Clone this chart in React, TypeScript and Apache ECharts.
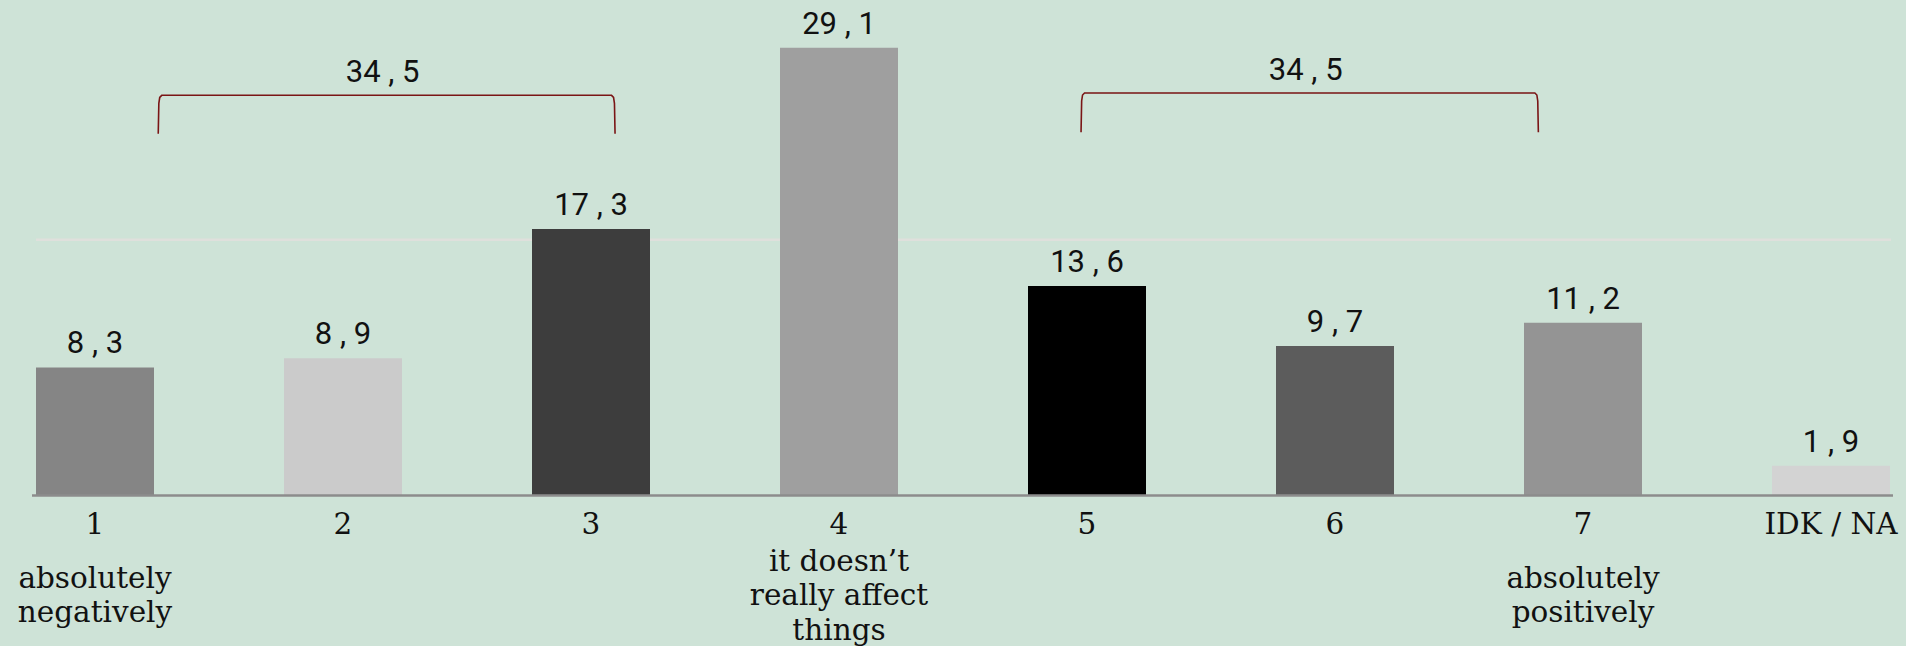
import React, { useEffect, useRef } from "react";
import * as echarts from "echarts";

// ---- data ----
const CATEGORIES = ["1", "2", "3", "4", "5", "6", "7", "IDK / NA"];
const SUB_LABELS = [
  "absolutely\nnegatively",
  "",
  "",
  "it doesn’t\nreally affect\nthings",
  "",
  "",
  "absolutely\npositively",
  "",
];
const VALUES = [8.3, 8.9, 17.3, 29.1, 13.6, 9.7, 11.2, 1.9];
const BAR_COLORS = ["#858585", "#cbcbcb", "#3d3d3d", "#9f9f9f", "#000000", "#5c5c5c", "#949494", "#d3d3d3"];
const GROUPS = [
  [0, 1, 2],
  [4, 5, 6],
];
const GRIDLINE_VALUE = 16.6;
const Y_MAX = 32.2;

// ---- annotation geometry (in axis units) ----
const BRACKET_GEOM = [
  { left: 0.255, right: 2.097, top: 26.0, bottom: 23.5 },
  { left: 3.976, right: 5.82, top: 26.15, bottom: 23.6 },
];
const AXIS_SPAN = [-0.254, 7.25];
const GRID_SPAN = [-0.238, 7.242];

const fmt = (v: number) => v.toFixed(1).replace(".", " , ");

export default function App() {
  const ref = useRef<HTMLDivElement>(null);

  useEffect(() => {
    if (!ref.current) return;
    const chart = echarts.init(ref.current, undefined, { renderer: "svg" });
    const serif = "DejaVu Serif";
    const option: any = {
      animation: false,
      backgroundColor: "#cee3d7",
      grid: { left: 95, right: 75, top: 0, bottom: 151, containLabel: false },
      xAxis: {
        type: "category",
        data: CATEGORIES,
        boundaryGap: false,
        axisLine: { show: false },
        axisTick: { show: false },
        splitLine: { show: false },
        axisLabel: {
          interval: 0,
          margin: 9.6,
          color: "#111",
          formatter: (value: string, idx: number) => {
            const sub = SUB_LABELS[idx];
            if (!sub) return `{n|${value}}`;
            const lines = sub.split("\n").map((l) => `{s|${l}}`);
            const gap = idx === 3 ? "" : "{g| }\n";
            return `{n|${value}}\n` + gap + lines.join("\n");
          },
          rich: {
            n: { fontFamily: serif, fontSize: 29.5, lineHeight: 38.8, color: "#111" },
            g: { fontSize: 2, lineHeight: 17 },
            s: { fontFamily: serif, fontSize: 29.5, lineHeight: 34.7, color: "#111" },
          },
        },
      },
      yAxis: {
        type: "value",
        min: 0,
        max: Y_MAX,
        axisLine: { show: false },
        axisTick: { show: false },
        axisLabel: { show: false },
        splitLine: { show: false },
      },
      series: [
        {
          type: "bar",
          barWidth: 118,
          clip: false,
          data: VALUES.map((v, i) => ({ value: v, itemStyle: { color: BAR_COLORS[i] } })),
          label: {
            show: true,
            position: "top",
            distance: 9,
            fontFamily: "Roboto",
            fontSize: 31,
            lineHeight: 31,
            color: "#111",
            formatter: (p: any) => fmt(p.value),
          },
        },
      ],
    };
    chart.setOption(option);

    const x0 = chart.convertToPixel({ xAxisIndex: 0 }, CATEGORIES[0]) as number;
    const x1 = chart.convertToPixel({ xAxisIndex: 0 }, CATEGORIES[1]) as number;
    const xp = (u: number) => x0 + u * (x1 - x0);
    const yp = (v: number) => chart.convertToPixel({ yAxisIndex: 0 }, v) as number;

    const graphics: any[] = [];
    graphics.push({
      type: "line",
      silent: true,
      z: 2,
      shape: { x1: xp(GRID_SPAN[0]), y1: yp(GRIDLINE_VALUE), x2: xp(GRID_SPAN[1]), y2: yp(GRIDLINE_VALUE) },
      style: { stroke: "#dfe0dc", lineWidth: 2.5 },
    });
    graphics.push({
      type: "line",
      silent: true,
      z: 100,
      shape: { x1: xp(AXIS_SPAN[0]), y1: yp(0) + 0.5, x2: xp(AXIS_SPAN[1]), y2: yp(0) + 0.5 },
      style: { stroke: "#8c8c8c", lineWidth: 2.5 },
    });
    GROUPS.forEach((g, gi) => {
      const geo = BRACKET_GEOM[gi];
      const sum = g.reduce((a, i) => a + VALUES[i], 0);
      const L = xp(geo.left);
      const R = xp(geo.right);
      const T = yp(geo.top);
      const B = yp(geo.bottom);
      graphics.push({
        type: "polyline",
        silent: true,
        z: 50,
        shape: {
          points: [
            [L, B],
            [L + 0.6, T + 8],
            [L + 1.5, T + 2],
            [L + 3.5, T],
            [R - 3.5, T],
            [R - 1.5, T + 2],
            [R - 0.6, T + 8],
            [R, B],
          ],
        },
        style: { stroke: "#7a1515", lineWidth: 1.6, fill: "none" },
      });
      graphics.push({
        type: "text",
        silent: true,
        z: 50,
        x: (L + R) / 2 - 4,
        y: T - 23.5,
        style: {
          text: fmt(sum),
          fontFamily: "Roboto",
          fontSize: 31,
          fill: "#111",
          align: "center",
          verticalAlign: "middle",
        },
      });
    });
    chart.setOption({ graphic: graphics });

    return () => chart.dispose();
  }, []);

  return (
    <div
      ref={ref}
      style={{ position: "absolute", left: 0, top: 0, width: 1906, height: 646 }}
    />
  );
}
